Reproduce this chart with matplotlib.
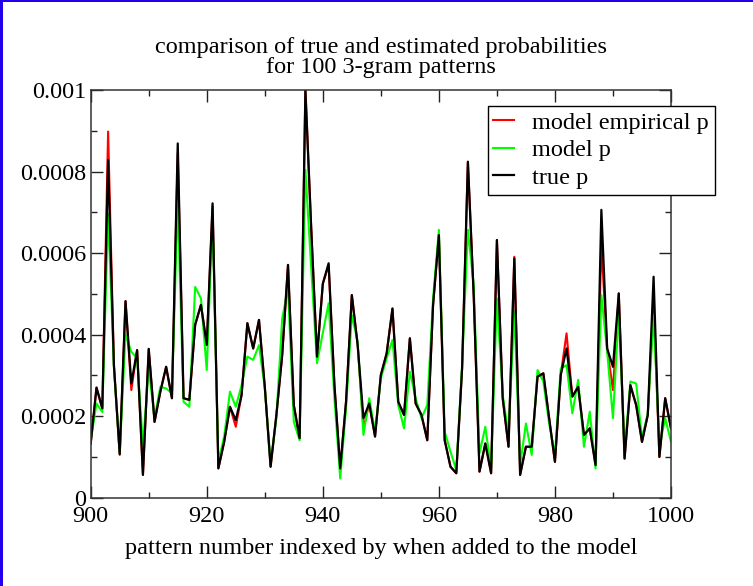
import numpy as np
import matplotlib
matplotlib.use("Agg")
import matplotlib.pyplot as plt
from matplotlib.patches import Rectangle
from matplotlib.ticker import MultipleLocator

# pattern numbers
pattern = np.arange(900, 1001)

# true probabilities (black)
true_p = [
    0.000133, 0.000270, 0.000219, 0.000828, 0.000325, 0.000107, 0.000482, 0.000280, 0.000362, 0.000056,
    0.000365, 0.000186, 0.000260, 0.000321, 0.000244, 0.000869, 0.000244, 0.000240, 0.000424, 0.000473,
    0.000375, 0.000722, 0.000072, 0.000137, 0.000223, 0.000190, 0.000252, 0.000428, 0.000366, 0.000436,
    0.000272, 0.000076, 0.000203, 0.000350, 0.000571, 0.000227, 0.000146, 0.001000, 0.000661, 0.000346,
    0.000525, 0.000575, 0.000276, 0.000072, 0.000235, 0.000497, 0.000375, 0.000195, 0.000231, 0.000150,
    0.000301, 0.000354, 0.000464, 0.000235, 0.000203, 0.000391, 0.000231, 0.000203, 0.000141, 0.000473,
    0.000644, 0.000141, 0.000076, 0.000060, 0.000317, 0.000824, 0.000497, 0.000064, 0.000133, 0.000060,
    0.000632, 0.000244, 0.000125, 0.000587, 0.000056, 0.000125, 0.000125, 0.000297, 0.000305, 0.000195,
    0.000088, 0.000301, 0.000366, 0.000248, 0.000272, 0.000154, 0.000170, 0.000080, 0.000706, 0.000366,
    0.000321, 0.000501, 0.000096, 0.000276, 0.000227, 0.000137, 0.000203, 0.000542, 0.000100, 0.000244,
    0.000170,
]

# model p (green)
model_p = [
    0.000140, 0.000231, 0.000210, 0.000697, 0.000320, 0.000110, 0.000400, 0.000358, 0.000342, 0.000130,
    0.000317, 0.000195, 0.000272, 0.000268, 0.000256, 0.000726, 0.000235, 0.000223, 0.000517, 0.000489,
    0.000313, 0.000685, 0.000088, 0.000150, 0.000260, 0.000223, 0.000276, 0.000346, 0.000338, 0.000374,
    0.000270, 0.000084, 0.000195, 0.000440, 0.000513, 0.000186, 0.000141, 0.000804, 0.000563, 0.000330,
    0.000404, 0.000477, 0.000244, 0.000047, 0.000219, 0.000448, 0.000383, 0.000154, 0.000244, 0.000162,
    0.000293, 0.000342, 0.000387, 0.000227, 0.000170, 0.000309, 0.000244, 0.000195, 0.000227, 0.000489,
    0.000657, 0.000162, 0.000113, 0.000068, 0.000325, 0.000657, 0.000522, 0.000109, 0.000174, 0.000072,
    0.000489, 0.000252, 0.000154, 0.000456, 0.000080, 0.000182, 0.000105, 0.000313, 0.000285, 0.000182,
    0.000105, 0.000317, 0.000325, 0.000207, 0.000289, 0.000125, 0.000211, 0.000072, 0.000497, 0.000358,
    0.000195, 0.000456, 0.000113, 0.000285, 0.000280, 0.000146, 0.000207, 0.000448, 0.000125, 0.000195,
    0.000137,
]

# model empirical p (red) - mostly hidden under the true p line
empirical_p = [
    0.000133, 0.000270, 0.000219, 0.000898, 0.000325, 0.000105, 0.000482, 0.000264, 0.000362, 0.000056,
    0.000365, 0.000186, 0.000260, 0.000321, 0.000244, 0.000845, 0.000244, 0.000240, 0.000424, 0.000473,
    0.000375, 0.000715, 0.000072, 0.000137, 0.000223, 0.000174, 0.000252, 0.000428, 0.000366, 0.000436,
    0.000272, 0.000076, 0.000203, 0.000350, 0.000571, 0.000227, 0.000146, 0.001000, 0.000661, 0.000346,
    0.000525, 0.000570, 0.000276, 0.000072, 0.000235, 0.000497, 0.000375, 0.000170, 0.000231, 0.000150,
    0.000301, 0.000354, 0.000464, 0.000235, 0.000203, 0.000391, 0.000231, 0.000203, 0.000141, 0.000473,
    0.000644, 0.000141, 0.000076, 0.000060, 0.000317, 0.000824, 0.000497, 0.000064, 0.000133, 0.000060,
    0.000632, 0.000244, 0.000125, 0.000591, 0.000056, 0.000125, 0.000125, 0.000297, 0.000305, 0.000195,
    0.000088, 0.000301, 0.000403, 0.000248, 0.000272, 0.000154, 0.000170, 0.000080, 0.000620, 0.000366,
    0.000264, 0.000501, 0.000096, 0.000276, 0.000227, 0.000137, 0.000203, 0.000480, 0.000100, 0.000244,
    0.000170,
]

TITLE = "comparison of true and estimated probabilities\nfor 100 3-gram patterns"
XLABEL = "pattern number indexed by when added to the model"

plt.rcParams['font.family'] = ['Liberation Serif', 'DejaVu Serif']

W, H = 753, 586
FS = 17.5
fig = plt.figure(figsize=(W / 100, H / 100), dpi=100)
ax = fig.add_axes([90.7 / W, 1 - 497.7 / H, (671 - 90.7) / W, (497.7 - 90) / H])

ax.plot(pattern, empirical_p, color='#ff0000', lw=1.5, label='model empirical p')
ax.plot(pattern, model_p, color='#00ff00', lw=1.5, label='model p')
ax.plot(pattern, true_p, color='black', lw=1.6, label='true p')

ax.set_xlim(900, 1000)
ax.set_ylim(0, 0.001)
ax.xaxis.set_major_locator(MultipleLocator(20))
ax.xaxis.set_minor_locator(MultipleLocator(10))
ax.yaxis.set_major_locator(MultipleLocator(0.0002))
ax.yaxis.set_minor_locator(MultipleLocator(0.0001))
ax.xaxis.set_major_formatter(lambda v, p: f"{v:g}")
ax.yaxis.set_major_formatter(lambda v, p: f"{v:g}")

ax.tick_params(which='both', direction='in', top=True, right=True, labelsize=FS,
               color='#222222', width=1)
ax.tick_params(which='major', length=8.5, pad=3)
ax.tick_params(axis='x', which='major', pad=6)
ax.tick_params(which='minor', length=4.3)
for sp in ax.spines.values():
    sp.set_color('#333333')
    sp.set_linewidth(1.1)

ax.set_title(TITLE, fontsize=FS, pad=12, linespacing=0.95)
ax.set_xlabel(XLABEL, fontsize=FS, labelpad=8)

leg = ax.legend(loc='upper left', bbox_to_anchor=(0.684, 0.961), fontsize=FS,
                frameon=True, fancybox=False, framealpha=1, edgecolor='black',
                handlelength=0.86, handletextpad=0.74, borderpad=0.24,
                labelspacing=0.23, borderaxespad=0)
leg.get_frame().set_linewidth(1)
leg.set_clip_on(False)

# blue border on the left and top edges
fig.add_artist(Rectangle((0, 0), 3 / W, 1, transform=fig.transFigure, color='#2200ee', lw=0))
fig.add_artist(Rectangle((0, 1 - 2 / H), 1, 2 / H, transform=fig.transFigure, color='#2200ee', lw=0))

fig.savefig('out.png', dpi=100)
